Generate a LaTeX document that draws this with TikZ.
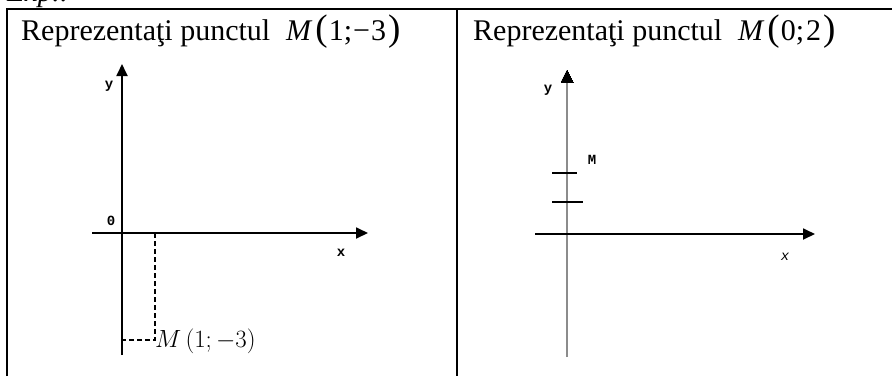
\documentclass[tikz,border=0pt]{standalone}
\usepackage{fontspec}
\setmainfont{Liberation Serif}
\newfontfamily\monofnt{Liberation Mono}
\usetikzlibrary{arrows.meta}
\newcommand{\bigparL}{{\fontsize{37}{37}\selectfont(}}
\newcommand{\bigparR}{{\fontsize{37}{37}\selectfont)}}
\begin{document}
\begin{tikzpicture}[x=1pt,y=-1pt,
  frame/.style={line width=2pt,black},
  axis/.style={line width=1.8pt,black,-{Triangle[length=12pt,width=11pt]}},
  grayaxis/.style={line width=2.6pt,black!45},
  tickln/.style={line width=1.5pt,black},
  dashln/.style={line width=1.2pt,black,dash pattern=on 5pt off 3pt},
  title/.style={anchor=base west,inner sep=0pt,font=\fontsize{30}{34}\selectfont},
  small/.style={inner sep=0pt,font=\monofnt\bfseries\fontsize{14}{15}\selectfont}]
\useasboundingbox (0,0) rectangle (892,376);
\clip (0,0) rectangle (892,376);
% clipped heading
\node[anchor=base west,inner sep=0pt,font=\itshape\fontsize{29}{34}\selectfont] (hd) at (7,1) {Exp.:};
% table frame
\coordinate (tl) at (7,9);
\coordinate (tr) at (892,9);
\coordinate (bl) at (7,376);
\coordinate (mt) at (457,9);
\coordinate (mb) at (457,376);
\draw[frame] (bl) -- (tl) -- (tr);
\draw[frame] (mt) -- (mb);
% titles
\node[title] (t1) at (21,40) {Reprezentaţi punctul\; \textit{M}\hspace{3pt}\bigparL\hspace{1pt}1;\hspace{1pt}−\hspace{1pt}3\hspace{2pt}\bigparR};
\node[title] (t2) at (473,40) {Reprezentaţi punctul\; \textit{M}\hspace{3pt}\bigparL\hspace{1pt}0;\hspace{2pt}2\hspace{2pt}\bigparR};
% left graph
\coordinate (ly0) at (122,355);
\coordinate (ly1) at (122,64);
\coordinate (lx0) at (92,233);
\coordinate (lx1) at (368,233);
\draw[axis] (ly0) -- (ly1);
\draw[axis] (lx0) -- (lx1);
\node[small] (ylab) at (109,86) {y};
\node[small] (xlab) at (341,253) {x};
\node[small] (olab) at (111,221) {0};
\coordinate (p1) at (155,233);
\coordinate (pm) at (155,340);
\coordinate (py) at (122,340);
\draw[dashln] (p1) -- (pm) -- (py);
\node[anchor=base west,inner sep=0pt,font=\fontsize{25}{30}\selectfont] (mlab) at (155,347) {$M\,\Bigl(1;-3\Bigr)$};
% right graph
\coordinate (ry0) at (567,357);
\coordinate (ry1) at (567,70);
\draw[grayaxis] (ry0) -- (567,80);
\draw[line width=0pt,fill=black] (567,70) -- (573,82) -- (561,82) -- cycle;
\coordinate (rx0) at (535,234);
\coordinate (rx1) at (815,234);
\draw[axis] (rx0) -- (rx1);
\coordinate (t1a) at (552,173);
\coordinate (t1b) at (577,173);
\coordinate (t2a) at (552,202);
\coordinate (t2b) at (583,202);
\draw[tickln] (t1a) -- (t1b);
\draw[tickln] (t2a) -- (t2b);
\node[small] (rylab) at (548,90) {y};
\node[small] (mlabr) at (592,160) {M};
\node[small,font=\monofnt\itshape\fontsize{14}{15}\selectfont] (rxlab) at (785,257) {x};
\end{tikzpicture}
\end{document}
